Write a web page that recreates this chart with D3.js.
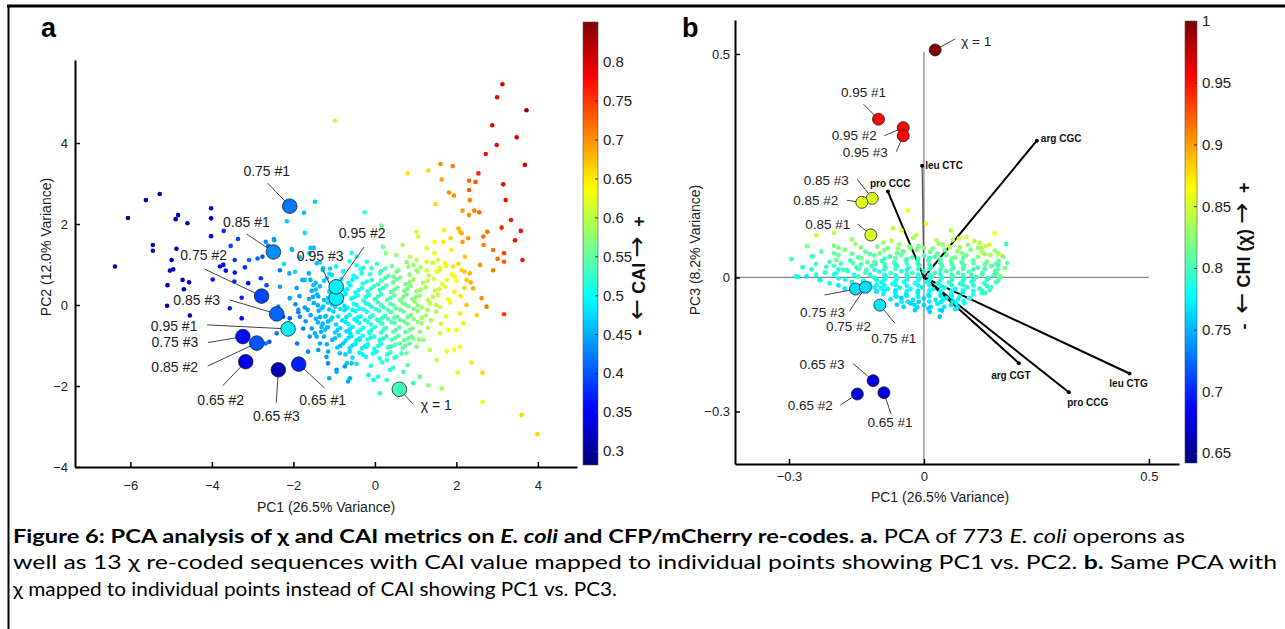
<!DOCTYPE html>
<html>
<head>
<meta charset="utf-8">
<script src="https://cdn.jsdelivr.net/npm/d3@7"></script>
<style>
  body { margin: 0; background: #fff; }
  text { font-family: "Liberation Sans", Arial, sans-serif; }
</style>
</head>
<body>
<svg id="fig" width="1285" height="629"></svg>
<script>
// ---- panel a: E. coli operons [PC1, PC2, CAI] ----
const aOperons = [
  // far left, dark blue
  [-6.06,2.15,.29],[-5.62,2.59,.30],[-5.28,2.74,.30],[-4.89,2.12,.31],[-4.83,2.22,.31],[-4.60,2.02,.31],[-4.02,2.39,.33],
  [-4.02,2.14,.32],[-4.02,1.70,.34],[-3.71,1.83,.38],[-3.36,1.63,.39],[-5.45,1.48,.31],[-5.45,1.34,.32],[-4.87,1.39,.31],
  [-6.38,0.95,.29],[-4.99,1.11,.31],[-5.03,0.85,.31],[-4.95,0.88,.32],[-5.09,0.49,.31],[-4.72,0.62,.32],[-4.56,0.56,.32],
  [-4.69,0.39,.31],[-5.10,-0.02,.31],[-4.54,-0.26,.30],[-3.98,0.63,.36],[-3.80,0.95,.34],[-3.72,0.99,.35],[-3.66,0.85,.35],
  [-3.54,1.46,.39],[-3.44,1.11,.38],[-3.44,0.80,.36],[-3.45,0.58,.37],[-3.19,0.93,.38],[-3.11,0.54,.36],[-3.27,0.18,.37],
  [-3.56,-0.08,.37],[-3.27,-0.33,.35],[-3.09,1.11,.41],[-2.88,1.15,.41],[-2.76,1.19,.40],[-2.80,0.66,.38],[-2.66,0.49,.40],
  [-2.62,1.46,.42],[-2.47,1.60,.44],
  // left, blue to cyan
  [-2.16,2.07,.47],[-1.47,2.55,.47],[-1.74,2.28,.46],[-1.72,1.78,.48],[-2.04,1.38,.45],[-2.48,1.63,.44],[-2.68,1.56,.43],
  [-1.58,1.41,.46],[-2.03,1.36,.46],[-1.84,1.18,.46],[-1.61,1.28,.47],[-1.50,1.41,.46],[-2.23,1.01,.48],[-2.10,0.78,.45],
  [-1.96,0.82,.47],[-1.72,0.62,.46],[-1.58,0.62,.45],[-2.33,0.86,.42],[-2.33,0.45,.44],[-2.09,0.17,.45],[-1.88,-0.12,.44],
  [-2.37,-0.04,.43],[-2.25,-0.29,.41],[-2.09,-0.33,.40],[-1.84,-0.29,.43],[-1.76,-0.58,.43],[-1.60,-0.78,.44],[-2.41,-0.70,.42],
  [-2.59,-0.91,.40],[-2.68,-0.95,.42],[-1.91,-0.95,.42],[-1.64,-1.15,.43],[-1.39,-1.11,.44],[-1.19,-1.28,.44],[-1.15,-1.44,.43],
  [-1.12,-1.81,.45],[-0.94,-1.60,.43],[-0.66,-1.89,.45],[-0.74,-1.52,.44],[-0.57,-1.44,.46],[-1.43,-0.78,.45],[-1.31,-0.54,.46],
  [-1.23,-0.29,.47],[-1.27,-0.04,.46],[-1.39,0.21,.45],[-1.51,0.49,.46],[-1.27,0.91,.47],[-1.43,1.03,.46],[-1.12,0.77,.48],
  // upper right, yellow to red
  [3.13,5.45,.80],[3.00,5.13,.79],[3.72,4.81,.84],[2.88,4.44,.79],[3.48,4.14,.80],[2.99,3.95,.79],[2.72,3.73,.78],[3.68,3.46,.80],
  [2.54,3.25,.76],[2.31,3.07,.72],[2.47,3.04,.73],[1.61,3.48,.70],[1.91,3.43,.71],[1.31,3.32,.66],[0.80,3.25,.65],[1.64,3.10,.69],
  [2.31,2.84,.73],[3.15,2.98,.79],[1.82,2.78,.70],[1.94,2.70,.70],[2.33,2.59,.71],[3.21,2.59,.78],[1.49,2.49,.66],[2.15,2.33,.69],
  [2.44,2.33,.71],[2.56,2.29,.72],[2.31,2.22,.70],[3.34,2.10,.77],[3.11,1.91,.76],[3.58,1.83,.78],[3.44,1.60,.78],[2.05,1.89,.68],
  [2.09,1.81,.67],[2.13,1.77,.68],[1.70,1.85,.65],[1.02,1.81,.61],[1.46,1.56,.64],[1.68,1.56,.65],[1.86,1.65,.66],[2.15,1.56,.69],
  [2.29,1.65,.70],[2.66,1.69,.72],[2.76,1.81,.72],[2.67,1.48,.71],[2.90,1.36,.72],[3.17,1.28,.74],[3.01,1.14,.72],[3.17,1.07,.73],
  [3.62,1.11,.77],[2.90,0.86,.71],[2.58,0.99,.70],[0.68,1.48,.59],[1.06,1.69,.61],[1.27,1.40,.62],[1.46,1.28,.63],[1.88,1.36,.65],
  [2.21,1.19,.67],[0.20,1.44,.56],[0.27,1.28,.57],[0.52,1.23,.58],[0.86,1.19,.60],[1.02,1.11,.60],[1.27,1.07,.62],[1.55,1.11,.63],
  [1.72,1.03,.64],[1.92,0.95,.65],[2.13,0.86,.66],[2.33,0.78,.68],[2.25,0.62,.67],[2.41,0.41,.68],[2.62,0.17,.70],[2.74,-0.04,.71],
  [1.96,0.70,.64],[1.76,0.62,.63],[1.51,0.82,.62],[1.27,0.86,.61],[1.02,0.86,.59],[0.82,0.95,.58],[0.53,0.82,.56],[0.45,0.70,.56],
  [-0.20,1.07,.52],[-0.33,0.78,.51],[-0.08,0.91,.53],[0.12,0.78,.54],[-0.25,2.29,.52],[0.16,1.96,.56],[-0.57,1.29,.50],
  [-0.45,1.19,.51],[-0.98,4.55,.60],
  // lower part
  [3.17,-0.23,.75],[2.50,-0.25,.66],[2.25,0.0,.67],[2.09,-0.21,.65],[2.17,-0.45,.65],[2.00,-0.62,.64],[1.80,-0.62,.63],
  [1.60,-0.70,.61],[2.09,-1.03,.64],[1.94,-1.11,.63],[1.76,-1.15,.62],[1.51,-1.36,.60],[1.35,-1.11,.60],[2.37,-1.42,.65],
  [2.03,-1.67,.63],[2.64,-1.67,.66],[2.64,-2.39,.62],[3.60,-2.72,.66],[3.99,-3.19,.66],[1.64,-2.06,.58],[1.31,-1.98,.57],
  [0.94,-1.93,.53],[0.12,-2.18,.51],[0.29,-1.85,.52],[-0.04,-1.85,.50],[-0.16,-1.73,.49],[0.08,-1.77,.50],[0.37,-1.60,.51],
  [0.70,-1.65,.53],[1.10,-1.77,.55],[-0.61,-1.81,.45],[-0.94,-1.65,.45],[-0.69,-1.44,.46],[-0.86,-1.19,.46],[-1.15,-1.15,.45],
  [-1.35,-0.95,.45],[-1.47,-0.70,.45],[-1.17,-0.55,.46],[-0.61,-0.70,.48],[-0.37,-0.86,.49],[-0.20,-1.03,.50],[0.04,-1.15,.51],
  [0.29,-1.36,.52],[0.53,-1.28,.53],[0.78,-1.19,.55],[1.02,-1.03,.57],[1.19,-0.86,.58],[0.94,-0.82,.56],[0.61,-0.95,.55],
  [0.37,-1.03,.53],[0.12,-0.86,.52],[-0.12,-0.70,.51],
  // dense core
  [-1.35,1.05,.47],[-0.95,0.95,.49],[-0.62,1.08,.50],[-0.28,0.92,.51],[0.05,1.02,.53],[0.42,0.97,.55],[0.78,1.06,.57],
  [1.12,0.93,.59],[1.42,1.04,.61],[1.75,0.96,.63],[2.05,1.02,.66],
  [-1.62,0.78,.45],[-1.28,0.86,.47],[-1.05,0.74,.48],[-0.78,0.83,.49],[-0.52,0.72,.50],[-0.35,0.88,.51],[-0.12,0.76,.52],
  [0.15,0.84,.53],[0.33,0.72,.54],[0.58,0.86,.56],[0.85,0.75,.57],[1.05,0.82,.58],[1.32,0.73,.60],[1.58,0.85,.62],[1.88,0.76,.64],[2.2,0.82,.67],
  [-1.78,0.62,.45],[-1.45,0.55,.46],[-1.18,0.66,.47],[-0.98,0.52,.48],[-0.82,0.64,.49],[-0.65,0.55,.49],[-0.45,0.68,.50],
  [-0.3,0.53,.51],[-0.08,0.62,.52],[0.08,0.51,.53],[0.25,0.66,.54],[0.45,0.56,.55],[0.62,0.68,.56],[0.75,0.52,.56],
  [0.95,0.63,.58],[1.18,0.55,.59],[1.45,0.65,.61],[1.65,0.52,.62],[2.0,0.6,.64],[2.35,0.56,.68],
  [-1.92,0.42,.44],[-1.55,0.35,.45],[-1.35,0.46,.46],[-1.12,0.33,.47],[-0.92,0.44,.48],[-0.75,0.36,.49],[-0.6,0.48,.49],
  [-0.48,0.31,.50],[-0.32,0.42,.51],[-0.18,0.34,.51],[-0.02,0.46,.52],[0.12,0.37,.53],[0.28,0.48,.54],[0.4,0.32,.54],
  [0.55,0.43,.55],[0.72,0.35,.56],[0.88,0.47,.57],[1.02,0.34,.58],[1.25,0.44,.59],[1.48,0.36,.61],[1.72,0.45,.62],[1.95,0.33,.64],[2.2,0.42,.66],
  [-1.85,0.22,.44],[-1.62,0.15,.45],[-1.42,0.26,.46],[-1.25,0.12,.46],[-1.05,0.24,.47],[-0.88,0.14,.48],[-0.72,0.27,.49],
  [-0.58,0.16,.49],[-0.42,0.23,.50],[-0.28,0.11,.51],[-0.15,0.25,.51],[0.0,0.15,.52],[0.15,0.27,.53],[0.3,0.13,.54],
  [0.48,0.24,.55],[0.62,0.12,.55],[0.78,0.26,.56],[0.92,0.15,.57],[1.1,0.23,.58],[1.3,0.12,.60],[1.55,0.25,.61],[1.8,0.14,.63],[2.1,0.22,.65],
  [-1.95,0.02,.43],[-1.72,-0.06,.44],[-1.5,0.05,.45],[-1.3,-0.08,.46],[-1.15,0.06,.47],[-0.98,-0.04,.48],[-0.82,0.08,.48],
  [-0.68,-0.07,.49],[-0.52,0.03,.50],[-0.38,-0.09,.50],[-0.22,0.04,.51],[-0.08,-0.05,.52],[0.08,0.07,.53],[0.22,-0.06,.53],
  [0.38,0.03,.54],[0.52,-0.08,.55],[0.68,0.05,.56],[0.82,-0.03,.56],[0.98,0.08,.57],[1.15,-0.06,.58],[1.35,0.04,.60],[1.6,-0.05,.61],[1.85,0.06,.63],
  [-1.88,-0.18,.43],[-1.58,-0.25,.45],[-1.38,-0.14,.45],[-1.2,-0.27,.46],[-1.02,-0.16,.47],[-0.9,-0.28,.48],[-0.75,-0.13,.48],
  [-0.62,-0.24,.49],[-0.48,-0.15,.50],[-0.35,-0.28,.50],[-0.2,-0.17,.51],[-0.05,-0.26,.52],[0.1,-0.14,.52],[0.25,-0.27,.53],
  [0.4,-0.18,.54],[0.55,-0.29,.55],[0.7,-0.16,.55],[0.88,-0.25,.56],[1.05,-0.15,.57],[1.25,-0.26,.59],[1.5,-0.17,.60],[1.75,-0.28,.62],
  [-1.7,-0.4,.44],[-1.45,-0.34,.45],[-1.28,-0.46,.46],[-1.08,-0.36,.47],[-0.95,-0.48,.47],[-0.8,-0.38,.48],[-0.65,-0.47,.49],
  [-0.5,-0.35,.49],[-0.38,-0.45,.50],[-0.25,-0.37,.51],[-0.1,-0.48,.51],[0.05,-0.36,.52],[0.18,-0.46,.53],[0.32,-0.34,.53],
  [0.48,-0.44,.54],[0.62,-0.37,.55],[0.8,-0.47,.56],[0.95,-0.35,.57],[1.15,-0.45,.58],[1.38,-0.38,.59],[1.62,-0.46,.61],
  [-1.55,-0.58,.44],[-1.32,-0.66,.45],[-1.15,-0.55,.46],[-0.98,-0.68,.47],[-0.85,-0.57,.48],[-0.7,-0.65,.48],[-0.55,-0.54,.49],
  [-0.42,-0.67,.50],[-0.28,-0.56,.50],[-0.15,-0.66,.51],[0.0,-0.55,.52],[0.15,-0.68,.52],[0.28,-0.57,.53],[0.45,-0.66,.54],
  [0.6,-0.55,.55],[0.75,-0.67,.55],[0.92,-0.58,.56],[1.1,-0.66,.57],[1.3,-0.56,.59],
  [-1.25,-0.78,.45],[-1.05,-0.86,.46],[-0.88,-0.75,.47],[-0.72,-0.88,.48],[-0.58,-0.77,.48],[-0.45,-0.87,.49],[-0.3,-0.76,.50],
  [-0.18,-0.85,.51],[-0.02,-0.78,.51],[0.12,-0.88,.52],[0.28,-0.77,.53],[0.42,-0.86,.54],[0.58,-0.76,.55],[0.72,-0.87,.55],
  [0.9,-0.78,.56],[1.08,-0.85,.57],
  [-1.18,-0.97,.45],[-0.92,-1.05,.46],[-0.78,-0.95,.47],[-0.62,-1.06,.48],[-0.48,-0.96,.49],[-0.32,-1.07,.49],[-0.18,-0.97,.50],
  [-0.02,-1.08,.51],[0.15,-0.96,.52],[0.32,-1.05,.53],[0.5,-0.98,.54],[0.68,-1.07,.55],[0.85,-0.95,.55],
  [-0.72,-1.22,.47],[-0.55,-1.3,.48],[-0.38,-1.18,.49],[-0.22,-1.28,.49],[-0.05,-1.2,.50],[0.12,-1.32,.51],[0.3,-1.22,.52],
  [0.48,-1.3,.53],[0.65,-1.2,.54],
  [-0.45,-1.45,.48],[-0.1,-1.5,.50],[0.18,-1.42,.51],[0.45,-1.55,.52],[0.8,-1.48,.54],
  // core, in-between
  [-1.1,0.9,.47],[-0.45,0.98,.50],[0.25,0.9,.54],[0.95,0.99,.58],[1.6,0.92,.62],
  [-1.25,0.6,.47],[-0.88,0.57,.48],[-0.55,0.62,.49],[-0.2,0.58,.51],[0.15,0.6,.53],[0.52,0.63,.55],[0.85,0.57,.57],[1.3,0.6,.60],
  [-1.45,0.38,.46],[-1.02,0.41,.47],[-0.68,0.39,.49],[-0.4,0.37,.50],[-0.1,0.4,.52],[0.2,0.42,.53],[0.48,0.38,.55],[0.8,0.4,.57],[1.12,0.38,.58],[1.58,0.4,.61],
  [-1.52,0.2,.45],[-1.15,0.18,.47],[-0.8,0.21,.48],[-0.5,0.19,.50],[-0.22,0.2,.51],[0.08,0.21,.53],[0.38,0.18,.54],[0.7,0.2,.56],[1.0,0.19,.57],[1.42,0.2,.60],
  [-1.4,-0.01,.45],[-1.05,0.01,.47],[-0.75,-0.02,.48],[-0.45,0.0,.50],[-0.15,0.01,.51],[0.15,-0.01,.53],[0.45,0.0,.54],[0.75,0.01,.56],[1.05,-0.01,.57],[1.5,0.0,.60],
  [-1.65,-0.12,.44],[-1.12,-0.11,.46],[-0.85,-0.1,.48],[-0.55,-0.12,.49],[-0.28,-0.11,.51],[0.02,-0.1,.52],[0.32,-0.12,.54],[0.62,-0.11,.55],[0.95,-0.1,.57],[1.3,-0.12,.59],
  [-1.35,-0.3,.45],[-1.05,-0.31,.47],[-0.7,-0.3,.48],[-0.42,-0.31,.50],[-0.12,-0.3,.51],[0.18,-0.32,.53],[0.48,-0.31,.54],[0.8,-0.3,.56],[1.15,-0.32,.58],
  [-1.4,-0.43,.45],[-1.15,-0.41,.46],[-0.72,-0.42,.48],[-0.44,-0.4,.49],[-0.18,-0.42,.51],[0.12,-0.41,.52],[0.4,-0.42,.54],[0.72,-0.41,.55],[1.05,-0.42,.57],
  [-1.22,-0.61,.46],[-0.92,-0.62,.47],[-0.62,-0.6,.48],[-0.35,-0.61,.50],[-0.08,-0.62,.51],[0.22,-0.6,.53],[0.52,-0.61,.54],[0.85,-0.62,.56],
  [-0.98,-0.82,.46],[-0.65,-0.81,.48],[-0.38,-0.82,.49],[-0.1,-0.81,.51],[0.2,-0.83,.52],[0.5,-0.81,.54],[0.82,-0.82,.55],
  [-0.85,-1.01,.46],[-0.55,-1.0,.48],[-0.25,-1.02,.49],[0.08,-1.01,.51],[0.42,-1.02,.53],[0.75,-1.0,.55],
  [-0.62,-1.15,.47],[-0.3,-1.22,.49],[0.02,-1.14,.50],[0.38,-1.17,.52]
];

// re-coded sequences, panel a [label, PC1, PC2, CAI]
const aRecodes = [
  ["0.75 #1", -2.09, 2.44, .42], ["0.85 #1", -2.49, 1.31, .43], ["0.75 #2", -2.78, 0.22, .39],
  ["0.85 #3", -2.41, -0.22, .41], ["0.95 #1", -2.13, -0.59, .49], ["0.75 #3", -3.24, -0.78, .36],
  ["0.85 #2", -2.90, -0.94, .40], ["0.65 #2", -3.17, -1.40, .34], ["0.65 #3", -2.37, -1.60, .31],
  ["0.65 #1", -1.87, -1.46, .37], ["0.95 #3", -0.95, 0.17, .49], ["0.95 #2", -0.95, 0.45, .49],
  ["χ = 1", 0.60, -2.08, .53]
];

// ---- panel b: E. coli operons [PC1, PC3, chi] ----
const bOperons = [
  [-0.036,0.150,.86],[-0.069,0.110,.845],[-0.239,0.094,.85],[-0.090,0.078,.83],[-0.017,0.095,.84],[-0.295,0.041,.80],
  [-0.284,0.002,.78],[-0.247,0.047,.81],[-0.217,0.024,.80],[-0.195,0.039,.81],[-0.180,0.017,.80],[-0.158,0.032,.81],
  [-0.139,0.043,.82],[-0.128,0.017,.80],[-0.110,0.035,.81],[-0.098,0.054,.82],[-0.076,0.047,.82],[-0.058,0.065,.83],
  [-0.032,0.069,.82],[0.020,0.065,.82],[0.042,0.073,.83],[0.064,0.084,.84],[0.094,0.091,.85],[0.124,0.077,.84],
  [0.146,0.073,.85],[0.157,0.099,.86],[0.183,0.075,.80],[0.172,0.050,.85],[0.128,0.065,.83],[0.164,0.028,.79],
  [0.161,0.009,.82],[0.168,0.002,.83],[0.146,-0.028,.80],[0.128,-0.035,.81],[0.102,-0.047,.80],[0.079,-0.043,.79],
  [-0.261,0.002,.77],[-0.232,-0.006,.78],[-0.195,0.009,.79],[-0.172,0.017,.80],[-0.106,-0.032,.77],
  [-0.095,-0.024,.78],[-0.061,-0.043,.77],[-0.036,-0.054,.77],[-0.021,-0.062,.765],[0.013,-0.077,.76],[0.035,-0.073,.77],
  [0.042,-0.050,.78],[0.072,-0.058,.78],[0.035,-0.088,.755],
  [-0.2,0.1,.84],[-0.16,0.085,.83],[-0.05,0.105,.85],[0.005,0.12,.86],[0.06,0.105,.84],[-0.26,0.07,.82],
  [-0.118,0.086,.83],[-0.072,0.082,.84],[-0.024,0.088,.83],[0.028,0.083,.84],[0.078,0.087,.85],[0.112,0.081,.84],
  [-0.2,0.071,.82],[-0.152,0.075,.83],[-0.104,0.069,.82],[-0.055,0.074,.83],[-0.012,0.07,.82],[0.033,0.075,.83],
  [0.058,0.068,.84],[0.098,0.073,.83],[0.138,0.07,.85],
  [-0.228,0.058,.81],[-0.176,0.062,.82],[-0.13,0.057,.81],[-0.088,0.061,.82],[-0.046,0.058,.81],[-0.016,0.062,.82],
  [0.014,0.057,.81],[0.046,0.061,.82],[0.074,0.058,.83],[0.104,0.062,.82],[0.129,0.056,.84],[0.158,0.06,.83],
  [-0.25,0.047,.80],[-0.19,0.05,.81],[-0.146,0.045,.80],[-0.11,0.049,.81],[-0.076,0.046,.80],[-0.05,0.05,.81],
  [-0.026,0.045,.80],[0.0,0.049,.81],[0.024,0.046,.80],[0.05,0.05,.81],[0.07,0.045,.82],[0.094,0.049,.81],
  [0.12,0.046,.82],[0.148,0.05,.83],[0.176,0.046,.82],
  [-0.21,0.035,.80],[-0.164,0.038,.80],[-0.126,0.034,.81],[-0.094,0.037,.80],[-0.066,0.034,.80],[-0.04,0.038,.80],
  [-0.014,0.035,.79],[0.01,0.038,.80],[0.036,0.034,.80],[0.06,0.037,.81],[0.084,0.034,.80],[0.11,0.038,.81],
  [0.14,0.035,.82],[0.166,0.037,.81],
  [-0.27,0.023,.79],[-0.2,0.026,.80],[-0.15,0.022,.79],[-0.116,0.026,.80],[-0.086,0.022,.79],[-0.06,0.025,.80],
  [-0.034,0.022,.79],[-0.01,0.026,.80],[0.016,0.022,.79],[0.04,0.025,.80],[0.066,0.022,.80],[0.09,0.026,.81],
  [0.12,0.022,.80],[0.15,0.025,.81],[0.18,0.021,.82],
  [-0.22,0.011,.79],[-0.17,0.014,.79],[-0.13,0.01,.80],[-0.1,0.013,.79],[-0.074,0.01,.80],[-0.05,0.014,.79],
  [-0.026,0.01,.80],[0.0,0.013,.79],[0.024,0.01,.80],[0.05,0.014,.80],[0.076,0.01,.80],[0.1,0.013,.81],
  [0.13,0.01,.80],[0.158,0.014,.81],
  [-0.28,0.001,.78],[-0.19,-0.002,.78],[-0.146,0.002,.79],[-0.11,-0.001,.78],[-0.084,0.002,.79],[-0.06,-0.002,.79],
  [-0.036,0.001,.78],[-0.01,-0.002,.79],[0.016,0.002,.79],[0.04,-0.001,.79],[0.064,0.002,.80],[0.09,-0.002,.79],
  [0.116,0.001,.80],[0.144,-0.002,.80],[0.17,0.001,.81],
  [-0.21,-0.013,.78],[-0.16,-0.01,.78],[-0.12,-0.014,.78],[-0.094,-0.011,.78],[-0.07,-0.014,.78],[-0.044,-0.01,.78],
  [-0.02,-0.013,.78],[0.006,-0.01,.78],[0.03,-0.014,.79],[0.056,-0.011,.79],[0.08,-0.014,.79],[0.106,-0.01,.79],
  [0.134,-0.013,.80],[0.16,-0.011,.80],
  [-0.176,-0.025,.77],[-0.11,-0.022,.77],[-0.08,-0.026,.78],[-0.054,-0.023,.77],[-0.03,-0.026,.78],[-0.004,-0.022,.77],
  [0.02,-0.026,.78],[0.046,-0.023,.78],[0.07,-0.026,.78],[0.096,-0.022,.79],[0.124,-0.025,.79],[0.15,-0.022,.80],
  [-0.09,-0.037,.77],[-0.064,-0.034,.77],[-0.04,-0.038,.77],[-0.014,-0.035,.77],[0.01,-0.038,.77],[0.036,-0.034,.78],
  [0.06,-0.037,.78],[0.086,-0.034,.78],[0.11,-0.038,.79],[0.136,-0.035,.79],
  [-0.074,-0.049,.77],[-0.05,-0.046,.76],[-0.024,-0.05,.77],[0.0,-0.047,.76],[0.026,-0.05,.77],[0.05,-0.046,.77],
  [0.076,-0.049,.78],[0.1,-0.046,.78],
  [-0.06,-0.061,.76],[-0.03,-0.058,.76],[0.0,-0.062,.76],[0.03,-0.059,.77],[0.06,-0.062,.77],[0.09,-0.058,.78],
  [-0.02,-0.073,.76],[0.01,-0.07,.76],[0.04,-0.074,.76],[0.07,-0.071,.77],
  [-0.088,0.042,.80],[-0.063,0.043,.81],[-0.038,0.041,.80],[-0.013,0.042,.80],[0.012,0.043,.80],[0.037,0.041,.81],[0.062,0.042,.81],[0.087,0.043,.81],
  [-0.088,0.03,.80],[-0.063,0.029,.79],[-0.038,0.031,.80],[-0.013,0.03,.79],[0.012,0.029,.80],[0.037,0.031,.80],[0.062,0.03,.80],[0.087,0.029,.81],
  [-0.088,0.018,.79],[-0.063,0.019,.80],[-0.038,0.017,.79],[-0.013,0.018,.80],[0.012,0.019,.79],[0.037,0.017,.80],[0.062,0.018,.80],[0.087,0.019,.80],
  [-0.088,0.006,.79],[-0.063,0.005,.79],[-0.038,0.007,.79],[-0.013,0.006,.79],[0.012,0.005,.79],[0.037,0.007,.79],[0.062,0.006,.80],[0.087,0.005,.80],
  [-0.088,-0.006,.78],[-0.063,-0.007,.78],[-0.038,-0.005,.79],[-0.013,-0.006,.78],[0.012,-0.007,.79],[0.037,-0.005,.79],[0.062,-0.006,.79],[0.087,-0.007,.79],
  [-0.088,-0.018,.78],[-0.063,-0.017,.78],[-0.038,-0.019,.78],[-0.013,-0.018,.78],[0.012,-0.017,.78],[0.037,-0.019,.78],[0.062,-0.018,.79],[0.087,-0.017,.79],
  [-0.088,-0.03,.77],[-0.063,-0.029,.77],[-0.038,-0.031,.78],[-0.013,-0.03,.77],[0.012,-0.029,.78],[0.037,-0.031,.78],[0.062,-0.03,.78],[0.087,-0.029,.78],
  [-0.063,-0.042,.77],[-0.038,-0.041,.77],[-0.013,-0.043,.77],[0.012,-0.042,.77],[0.037,-0.041,.77],[0.062,-0.043,.78],
  [-0.2,0.054,.81],[-0.16,0.053,.81],[-0.12,0.052,.81],[-0.06,0.054,.81],[0.03,0.053,.81],[0.085,0.054,.82],[0.135,0.052,.83],[0.165,0.054,.83],
  [-0.19,0.066,.82],[-0.14,0.067,.82],[-0.08,0.066,.82],[-0.03,0.066,.82],[0.0,0.066,.82],[0.08,0.067,.83],[0.12,0.066,.83],
  [-0.24,0.03,.80],[-0.185,0.031,.80],[-0.14,0.029,.80],[-0.107,0.03,.80],[0.11,0.031,.81],[0.135,0.029,.81],[0.16,0.03,.81],[0.185,0.032,.81],
  [-0.25,0.018,.79],[-0.19,0.018,.79],[-0.145,0.019,.80],[-0.11,0.017,.79],[0.11,0.018,.80],[0.135,0.019,.80],[0.165,0.018,.81],
  [-0.24,0.006,.79],[-0.2,0.007,.79],[-0.155,0.005,.79],[-0.12,0.006,.79],[0.105,0.006,.80],[0.13,0.007,.80],[0.155,0.005,.80],
  [-0.23,-0.006,.78],[-0.175,-0.005,.78],[-0.135,-0.007,.78],[-0.105,-0.006,.78],[0.11,-0.006,.79],[0.14,-0.005,.79],[0.165,-0.007,.80],
  [-0.19,-0.018,.77],[-0.14,-0.019,.78],[-0.105,-0.017,.78],[0.11,-0.018,.79],[0.14,-0.019,.79],
  [-0.13,-0.03,.77],[-0.105,-0.031,.77],[0.11,-0.03,.78],[0.13,-0.031,.79],
  [-0.05,-0.054,.77],[-0.012,-0.055,.76],[0.012,-0.054,.77],[0.038,-0.055,.77],[0.064,-0.054,.77],[0.088,-0.053,.78],
  [-0.045,-0.066,.76],[-0.015,-0.067,.76],[0.015,-0.066,.76],[0.045,-0.066,.77],[0.075,-0.067,.77]
];

// re-coded sequences, panel b [label, PC1, PC3, chi]
const bRecodes = [
  ["χ = 1", 0.025, 0.509, 1.0], ["0.95 #1", -0.101, 0.354, .953], ["0.95 #2", -0.046, 0.335, .955],
  ["0.95 #3", -0.046, 0.317, .955], ["0.85 #3", -0.115, 0.177, .855], ["0.85 #2", -0.138, 0.168, .855],
  ["0.85 #1", -0.118, 0.095, .852], ["0.75 #3", -0.152, -0.026, .765], ["0.75 #2", -0.130, -0.022, .765],
  ["0.75 #1", -0.098, -0.062, .768], ["0.65 #3", -0.113, -0.231, .675], ["0.65 #2", -0.148, -0.261, .675],
  ["0.65 #1", -0.089, -0.258, .675]
];

// codon loadings for panel b [codon, PC1, PC3]
const loadings = [
  ["leu CTC", -0.004, 0.25], ["pro CCC", -0.08, 0.192], ["arg CGC", 0.251, 0.306],
  ["arg CGT", 0.211, -0.192], ["pro CCG", 0.322, -0.257], ["leu CTG", 0.457, -0.215]
];

const aTicksX = [-6, -4, -2, 0, 2, 4], aTicksY = [-4, -2, 0, 2, 4];
const bTicksX = [-0.3, 0, 0.5], bTicksY = [-0.3, 0, 0.5];
const caiTicks = [0.3, 0.35, 0.4, 0.45, 0.5, 0.55, 0.6, 0.65, 0.7, 0.75, 0.8];
const chiTicks = [0.65, 0.7, 0.75, 0.8, 0.85, 0.9, 0.95, 1];

// label placement (pixel offsets from the marker: text centre, leader-line end)
const aLabelPos = {
  "0.75 #1": [-23,-35,-22,-23], "0.85 #1": [-27,-30,-27,-18], "0.75 #2": [-58,-41,-57,-27],
  "0.85 #3": [-80,-14,-47,-14], "0.95 #1": [-114,-3,-81,-4], "0.75 #3": [-68,6,-35,6],
  "0.85 #2": [-82,24,-49,23], "0.65 #2": [-25,38,-23,24], "0.65 #3": [-2,46,-2,33],
  "0.65 #1": [24,36,26,24], "0.95 #3": [-16,-42,-14,-30], "0.95 #2": [26,-54,28,-40],
  "χ = 1": [37,16,14,15]
};
const bLabelPos = {
  "χ = 1": [41,-9,20,-11], "0.95 #1": [-15,-27,-15,-15], "0.95 #2": [-49,8,-19,8],
  "0.95 #3": [-38,17,-7,16], "0.85 #3": [-46,-18,-15,-19], "0.85 #2": [-46,-2,-15,-2],
  "0.85 #1": [-43,-11,-13,-11], "0.75 #3": [-33,23,-31,6], "0.75 #2": [-17,39,-16,24],
  "0.75 #1": [14,33,15,18], "0.65 #3": [-51,-16,-20,-17], "0.65 #2": [-47,11,-17,11],
  "0.65 #1": [6,30,7,21]
};
const loadLabelPos = {
  "leu CTC": [3,0,"start"], "pro CCC": [-18,-8,"start"], "arg CGC": [4,-2,"start"],
  "arg CGT": [-8,12,"middle"], "pro CCG": [19,10,"middle"], "leu CTG": [-1,10,"middle"]
};

// MATLAB style jet colormap
function jet(t) {
  const c = v => Math.max(0, Math.min(1, v));
  const r = c(Math.min(4 * t - 1.5, -4 * t + 4.5));
  const g = c(Math.min(4 * t - 0.5, -4 * t + 3.5));
  const b = c(Math.min(4 * t + 0.5, -4 * t + 2.5));
  return d3.rgb(r * 255, g * 255, b * 255).formatHex();
}

const svg = d3.select("#fig");
svg.append("rect").attr("width", 1285).attr("height", 629).attr("fill", "#fff");

// frame
svg.append("line").attr("x1", 7).attr("x2", 1285).attr("y1", 6).attr("y2", 6)
  .attr("stroke", "#000").attr("stroke-width", 3);
svg.append("line").attr("x1", 8.5).attr("x2", 8.5).attr("y1", 5).attr("y2", 629)
  .attr("stroke", "#000").attr("stroke-width", 2);

function styleAxis(g, size) {
  g.select(".domain").attr("stroke", "#000").attr("stroke-width", 2);
  g.selectAll(".tick line").attr("stroke", "#000").attr("stroke-width", 1.5);
  g.selectAll(".tick text").attr("fill", "#222").style("font-size", size + "px")
    .style("font-family", "'Liberation Sans', Arial, sans-serif");
}

// colour bar with a rotated "- <- NAME -> +" title; parts are [text, isArrow]
function colorBar(id, y, domain, ticks, x, w, titleParts, titleX, titleY) {
  const color = d3.scaleSequential(jet).domain(domain);
  const grad = svg.append("defs").append("linearGradient").attr("id", id)
    .attr("x1", 0).attr("x2", 0).attr("y1", 1).attr("y2", 0);
  d3.range(0, 1.0001, 0.02).forEach(t => {
    grad.append("stop").attr("offset", t).attr("stop-color", jet(t));
  });
  svg.append("rect").attr("x", x).attr("y", y.range()[1]).attr("width", w)
    .attr("height", y.range()[0] - y.range()[1]).attr("fill", `url(#${id})`)
    .attr("stroke", "#555").attr("stroke-width", 0.6);
  const ax = svg.append("g").attr("transform", `translate(${x + w},0)`)
    .call(d3.axisRight(y).tickValues(ticks).tickSizeInner(-3).tickSizeOuter(0).tickPadding(5)
      .tickFormat(d3.format("")));
  ax.select(".domain").remove();
  ax.selectAll(".tick line").attr("stroke", "#333");
  ax.selectAll(".tick text").attr("fill", "#222").style("font-size", "15px");
  const t = svg.append("text")
    .attr("transform", `translate(${titleX},${titleY}) rotate(-90)`)
    .attr("text-anchor", "middle").attr("font-weight", "bold").style("font-size", "18px")
    .attr("fill", "#111").attr("xml:space", "preserve").style("white-space", "pre");
  titleParts.forEach(p => {
    const s = t.append("tspan").text(p[0]);
    if (p[1]) s.style("font-family", "'DejaVu Sans', sans-serif").style("font-size", "25px")
      .attr("font-weight", "normal");
  });
  return color;
}

// ================= panel a =================
const xA = d3.scaleLinear().domain([-7.36, 4.96]).range([75, 577]);
const yA = d3.scaleLinear().domain([-4, 6.05]).range([467, 60]);
const caiY = d3.scaleLinear().domain([0.282, 0.851]).range([465, 22]);
const caiColor = colorBar("gradA", caiY, [0.282, 0.851], caiTicks, 583, 15,
  [["-  ", false], ["\u2190", true], [" CAI ", false], ["\u2192", true], ["  +", false]], 645, 276);

const gA = svg.append("g");
gA.append("g").attr("transform", "translate(0,467)")
  .call(d3.axisBottom(xA).tickValues(aTicksX).tickSizeInner(-5).tickSizeOuter(0).tickPadding(14))
  .call(g => styleAxis(g, 13));
gA.append("g").attr("transform", "translate(75,0)")
  .call(d3.axisLeft(yA).tickValues(aTicksY).tickSizeInner(-5).tickSizeOuter(0).tickPadding(7))
  .call(g => styleAxis(g, 13));

gA.append("text").attr("x", 326).attr("y", 512).attr("text-anchor", "middle")
  .style("font-size", "14px").attr("fill", "#222").text("PC1 (26.5% Variance)");
gA.append("text").attr("transform", "translate(51,247) rotate(-90)").attr("text-anchor", "middle")
  .style("font-size", "14px").attr("fill", "#222").text("PC2 (12.0% Variance)");
gA.append("text").attr("x", 41).attr("y", 37).attr("font-weight", "bold")
  .style("font-size", "27px").attr("fill", "#000").text("a");

gA.append("g").selectAll("circle").data(aOperons).join("circle")
  .attr("cx", d => xA(d[0])).attr("cy", d => yA(d[1])).attr("r", 2.3)
  .attr("fill", d => caiColor(d[2]));

gA.append("g").selectAll("line").data(aRecodes).join("line")
  .attr("x1", d => xA(d[1])).attr("y1", d => yA(d[2]))
  .attr("x2", d => xA(d[1]) + aLabelPos[d[0]][2]).attr("y2", d => yA(d[2]) + aLabelPos[d[0]][3])
  .attr("stroke", "#444").attr("stroke-width", 1);
gA.append("g").selectAll("circle").data(aRecodes).join("circle")
  .attr("cx", d => xA(d[1])).attr("cy", d => yA(d[2])).attr("r", 7.3)
  .attr("fill", d => caiColor(d[3])).attr("stroke", "#222").attr("stroke-width", 0.8);
gA.append("g").selectAll("text").data(aRecodes).join("text")
  .attr("x", d => xA(d[1]) + aLabelPos[d[0]][0]).attr("y", d => yA(d[2]) + aLabelPos[d[0]][1])
  .attr("dy", "0.35em").attr("text-anchor", "middle").style("font-size", "14px")
  .attr("fill", "#222").text(d => d[0]);

// ================= panel b =================
const xB = d3.scaleLinear().domain([-0.42, 0.567]).range([735, 1179]);
const yB = d3.scaleLinear().domain([-0.4175, 0.576]).range([464, 20]);
const chiY = d3.scaleLinear().domain([0.642, 1.0]).range([463, 21]);
const chiColor = colorBar("gradB", chiY, [0.642, 1.0], chiTicks, 1185, 12,
  [["-  ", false], ["\u2190", true], [" CHI (\u03c7) ", false], ["\u2192", true], ["  +", false]], 1250, 256);

const gB = svg.append("g");
// zero lines
gB.append("line").attr("x1", xB(0)).attr("x2", xB(0)).attr("y1", 52).attr("y2", 464)
  .attr("stroke", "#888").attr("stroke-width", 1.3);
gB.append("line").attr("x1", 735).attr("x2", xB(0.5)).attr("y1", yB(0)).attr("y2", yB(0))
  .attr("stroke", "#888").attr("stroke-width", 1.3);

gB.append("g").attr("transform", "translate(0,464)")
  .call(d3.axisBottom(xB).tickValues(bTicksX).tickSizeInner(-5).tickSizeOuter(0).tickPadding(8)
    .tickFormat(d3.format("")))
  .call(g => styleAxis(g, 13));
gB.append("g").attr("transform", "translate(735,0)")
  .call(d3.axisLeft(yB).tickValues(bTicksY).tickSizeInner(-5).tickSizeOuter(0).tickPadding(5)
    .tickFormat(d3.format("")))
  .call(g => styleAxis(g, 13));

gB.append("text").attr("x", 940).attr("y", 502).attr("text-anchor", "middle")
  .style("font-size", "14px").attr("fill", "#222").text("PC1 (26.5% Variance)");
gB.append("text").attr("transform", "translate(700,250) rotate(-90)").attr("text-anchor", "middle")
  .style("font-size", "14px").attr("fill", "#222").text("PC3 (8.2% Variance)");
gB.append("text").attr("x", 682).attr("y", 37).attr("font-weight", "bold")
  .style("font-size", "27px").attr("fill", "#000").text("b");

// loading vectors
gB.append("g").selectAll("line").data(loadings).join("line")
  .attr("x1", xB(0)).attr("y1", yB(0)).attr("x2", d => xB(d[1])).attr("y2", d => yB(d[2]))
  .attr("stroke", d => d[0] === "leu CTC" ? "#555" : "#000")
  .attr("stroke-width", d => d[0] === "leu CTC" ? 1.3 : 2);

gB.append("g").selectAll("circle").data(bOperons).join("circle")
  .attr("cx", d => xB(d[0])).attr("cy", d => yB(d[1])).attr("r", 2.4)
  .attr("fill", d => chiColor(d[2]));

gB.append("g").selectAll("circle").data(loadings).join("circle")
  .attr("cx", d => xB(d[1])).attr("cy", d => yB(d[2])).attr("r", 2).attr("fill", "#000");
gB.append("g").selectAll("text").data(loadings).join("text")
  .attr("x", d => xB(d[1]) + loadLabelPos[d[0]][0]).attr("y", d => yB(d[2]) + loadLabelPos[d[0]][1])
  .attr("dy", "0.35em").attr("text-anchor", d => loadLabelPos[d[0]][2])
  .attr("font-weight", "bold").style("font-size", "10px").attr("fill", "#111").text(d => d[0]);

gB.append("g").selectAll("line").data(bRecodes).join("line")
  .attr("x1", d => xB(d[1])).attr("y1", d => yB(d[2]))
  .attr("x2", d => xB(d[1]) + bLabelPos[d[0]][2]).attr("y2", d => yB(d[2]) + bLabelPos[d[0]][3])
  .attr("stroke", "#444").attr("stroke-width", 1);
gB.append("g").selectAll("circle").data(bRecodes).join("circle")
  .attr("cx", d => xB(d[1])).attr("cy", d => yB(d[2])).attr("r", 6)
  .attr("fill", d => chiColor(d[3])).attr("stroke", "#222").attr("stroke-width", 0.8);
gB.append("g").selectAll("text").data(bRecodes).join("text")
  .attr("x", d => xB(d[1]) + bLabelPos[d[0]][0]).attr("y", d => yB(d[2]) + bLabelPos[d[0]][1])
  .attr("dy", "0.35em").attr("text-anchor", "middle").style("font-size", "13.5px")
  .attr("fill", "#222").text(d => d[0]);

// ================= caption =================
const captionLines = [
  { y: 543, width: 1172, parts: [
    ["Figure 6: PCA analysis of χ and CAI metrics on ", "bold", "normal"],
    ["E. coli", "bold", "italic"],
    [" and CFP/mCherry re-codes. a.", "bold", "normal"],
    [" PCA of 773 ", "normal", "normal"],
    ["E. coli", "normal", "italic"],
    [" operons as", "normal", "normal"]] },
  { y: 569, width: 1264, parts: [
    ["well as 13 χ re-coded sequences with CAI value mapped to individual points showing PC1 vs. PC2. ", "normal", "normal"],
    ["b.", "bold", "normal"],
    [" Same PCA with", "normal", "normal"]] },
  { y: 596, width: 604, parts: [
    ["χ mapped to individual points instead of CAI showing PC1 vs. PC3.", "normal", "normal"]] }
];
const cap = svg.append("g");
captionLines.forEach(line => {
  const t = cap.append("text").attr("x", 13).attr("y", line.y)
    .style("font-family", "Lato, 'Open Sans', sans-serif").style("font-size", "19px")
    .attr("fill", "#000").attr("textLength", line.width).attr("lengthAdjust", "spacingAndGlyphs")
    .attr("xml:space", "preserve").style("white-space", "pre");
  line.parts.forEach(p => {
    t.append("tspan").attr("font-weight", p[1]).attr("font-style", p[2]).text(p[0]);
  });
});
</script>
</body>
</html>
